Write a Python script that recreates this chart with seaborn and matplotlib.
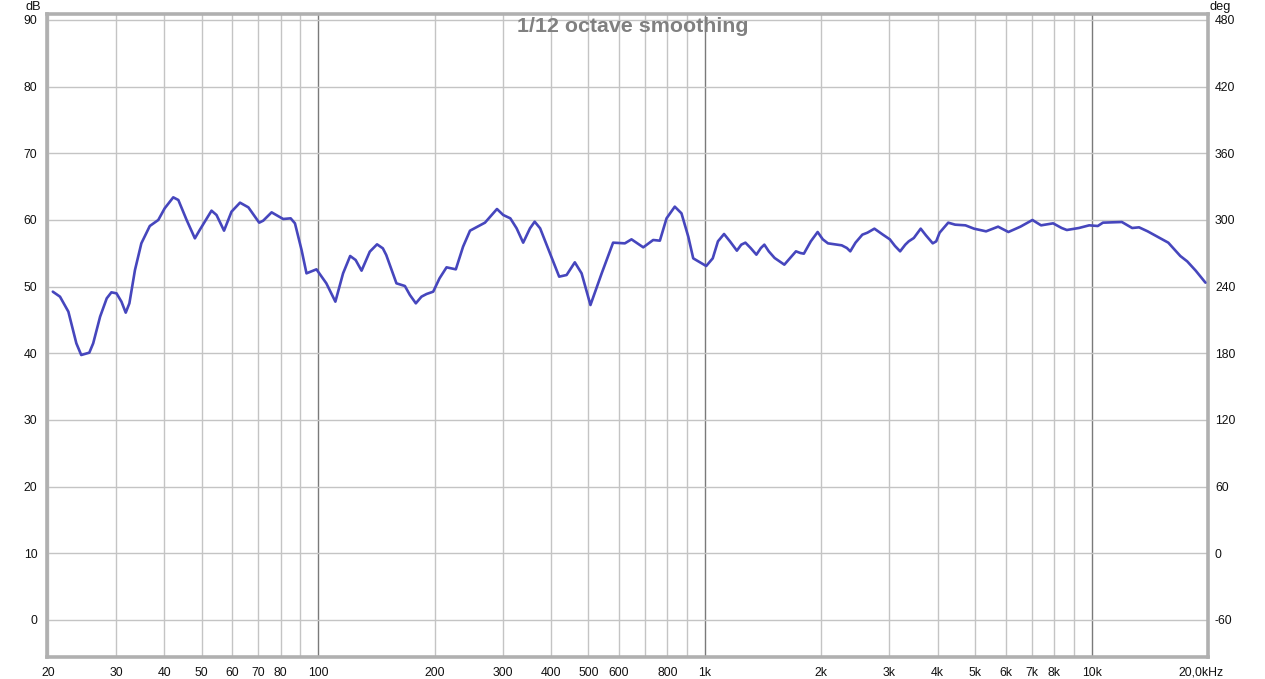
import numpy as np
import pandas as pd
import matplotlib
matplotlib.use("Agg")
import matplotlib.pyplot as plt
import matplotlib.transforms as mtrans
import seaborn as sns
from matplotlib.ticker import FixedLocator, FixedFormatter

# ---- data ----
freq_hz = [
    20.6, 21.5, 22.6, 23.7, 24.4, 25.6, 26.2, 27.3, 28.4, 29.2,
    30.1, 31.0, 31.8, 32.5, 33.6, 34.9, 36.7, 38.6, 40.1, 42.2,
    43.5, 45.7, 48.0, 49.4, 53.0, 54.6, 57.1, 59.7, 62.8, 66.0,
    70.4, 72.1, 75.8, 81.2, 84.9, 87.1, 90.6, 93.3, 99.0, 105,
    110.8, 116, 121, 125, 129.5, 136, 142, 147, 150, 159.4,
    167.6, 172.7, 178.9, 185, 190.7, 198.4, 206, 214.8, 227, 237,
    247, 270, 281, 290, 301, 314, 326, 339, 353, 363,
    375, 390, 420, 439, 461, 480, 506, 541, 579, 621,
    646, 693, 735, 765, 796, 836, 870, 906, 933, 1008,
    1048, 1081, 1121, 1161, 1210, 1242, 1273, 1313, 1359, 1396,
    1425, 1463, 1515, 1605, 1662, 1720, 1766, 1803, 1879, 1957,
    2018, 2081, 2259, 2329, 2377, 2452, 2554, 2633, 2744, 2887,
    3008, 3102, 3198, 3298, 3366, 3470, 3615, 3729, 3884, 3965,
    4046, 4259, 4437, 4718, 4966, 5335, 5731, 6094, 6546, 7032,
    7402, 7953, 8368, 8629, 9271, 9858, 10375, 10699, 11975, 12732,
    13266, 13963, 15788, 16962, 17668, 18590, 19700,
]
spl_db = [
    49.25, 48.5, 46.25, 41.5, 39.75, 40.1, 41.5, 45.5, 48.25, 49.15,
    49.0, 47.75, 46.1, 47.5, 52.5, 56.5, 59.1, 60.0, 61.75, 63.4,
    63.0, 60.0, 57.25, 58.5, 61.4, 60.75, 58.4, 61.25, 62.6, 61.9,
    59.6, 59.9, 61.15, 60.15, 60.25, 59.5, 55.5, 52.0, 52.6, 50.5,
    47.75, 52.0, 54.6, 54.0, 52.4, 55.25, 56.35, 55.75, 54.75, 50.5,
    50.1, 48.75, 47.5, 48.5, 48.9, 49.25, 51.25, 52.9, 52.6, 56.0,
    58.4, 59.6, 60.75, 61.65, 60.75, 60.25, 58.75, 56.6, 58.75, 59.75,
    58.75, 56.25, 51.5, 51.75, 53.65, 52.0, 47.25, 52.0, 56.6, 56.5,
    57.1, 55.9, 57.0, 56.9, 60.25, 62.0, 61.0, 57.5, 54.25, 53.1,
    54.25, 56.8, 57.9, 56.8, 55.4, 56.3, 56.6, 55.8, 54.8, 55.8,
    56.3, 55.3, 54.3, 53.3, 54.3, 55.3, 55.05, 54.95, 56.8, 58.2,
    57.1, 56.5, 56.2, 55.8, 55.3, 56.6, 57.8, 58.1, 58.7, 57.8,
    57.1, 56.1, 55.3, 56.3, 56.8, 57.3, 58.7, 57.7, 56.5, 56.8,
    58.1, 59.6, 59.3, 59.2, 58.7, 58.3, 59.0, 58.2, 59.0, 60.0,
    59.2, 59.5, 58.8, 58.5, 58.8, 59.2, 59.1, 59.6, 59.7, 58.8,
    58.9, 58.3, 56.6, 54.6, 53.8, 52.4, 50.6,
]

decade_ticks = [100, 1000, 10000]
decade_labels = ["100", "1k", "10k"]
minor_ticks = [20, 30, 40, 50, 60, 70, 80, 90,
               200, 300, 400, 500, 600, 700, 800, 900,
               2000, 3000, 4000, 5000, 6000, 7000, 8000, 9000, 20000]
minor_labels = ["20", "30", "40", "50", "60", "70", "80", "",
                "200", "300", "400", "500", "600", "", "800", "",
                "2k", "3k", "4k", "5k", "6k", "7k", "8k", "", "20,0kHz"]
db_ticks = [0, 10, 20, 30, 40, 50, 60, 70, 80, 90]
deg_ticks = [-60, 0, 60, 120, 180, 240, 300, 360, 420, 480]

title = "1/12 octave smoothing"

# ---- style ----
sns.set_style("white")
plt.rcParams["font.family"] = ["Liberation Sans", "DejaVu Sans"]

LABEL_FS = 8.8
TXT = "#111111"

W, H = 1265, 679
fig = plt.figure(figsize=(W / 100, H / 100), dpi=100)
ax = fig.add_axes([47 / W, 1 - 657 / H, (1208 - 47) / W, (657 - 14) / H])

df = pd.DataFrame({"freq": freq_hz, "db": spl_db})
sns.lineplot(data=df, x="freq", y="db", ax=ax, color="#4646bd",
             linewidth=1.9, sort=False, zorder=5)

ax.set_xscale("log")
ax.set_xlim(19.9, 20000)
ylo, yhi = -5.55, 90.9
ax.set_ylim(ylo, yhi)

ax.xaxis.set_major_locator(FixedLocator(decade_ticks))
ax.xaxis.set_major_formatter(FixedFormatter(decade_labels))
ax.xaxis.set_minor_locator(FixedLocator(minor_ticks))
ax.xaxis.set_minor_formatter(FixedFormatter(minor_labels))
ax.set_yticks(db_ticks)
ax.set_yticklabels([str(v) for v in db_ticks])

ax.grid(False)
ax.grid(True, which="major", axis="x", color="#7a7a7a", linewidth=1.0, zorder=1)
ax.grid(True, which="minor", axis="x", color="#c4c4c4", linewidth=1.0, zorder=1)
ax.grid(True, which="major", axis="y", color="#c4c4c4", linewidth=1.0, zorder=1)
ax.set_axisbelow(True)

ax.tick_params(axis="x", which="both", length=0, pad=7, labelsize=LABEL_FS,
               labelcolor=TXT)
ax.tick_params(axis="y", which="both", length=0, pad=7, labelsize=LABEL_FS,
               labelcolor=TXT)
ax.set_xlabel("")
ax.set_ylabel("")

for sp in ax.spines.values():
    sp.set_color("#b0b0b0")
    sp.set_linewidth(2.6)
    sp.set_visible(True)

# right axis in degrees: deg = (dB - 10) * 6
ax2 = ax.twinx()
ax2.set_ylim((ylo - 10) * 6, (yhi - 10) * 6)
ax2.set_yticks(deg_ticks)
ax2.set_yticklabels([str(v) for v in deg_ticks])
ax2.tick_params(axis="y", length=0, pad=5, labelsize=LABEL_FS, labelcolor=TXT)
ax2.grid(False)
for sp in ax2.spines.values():
    sp.set_visible(False)

# the last frequency label sits slightly left of the frame edge
fig.canvas.draw()
for t in ax.xaxis.get_minor_ticks():
    if t.label1.get_text() == "20,0kHz":
        t.label1.set_transform(t.label1.get_transform() +
                               mtrans.ScaledTranslation(-0.07, 0, fig.dpi_scale_trans))

fig.text(33 / W, 1 - 7 / H, "dB", ha="center", va="center", fontsize=LABEL_FS + 0.4,
         color=TXT)
fig.text(1220 / W, 1 - 7 / H, "deg", ha="center", va="center", fontsize=LABEL_FS + 0.4,
         color=TXT)
fig.text(632.5 / W, 1 - 27 / H, title, ha="center", va="center", fontsize=15.4,
         fontweight="bold", color="#808080")

fig.savefig("out.png", dpi=100)
